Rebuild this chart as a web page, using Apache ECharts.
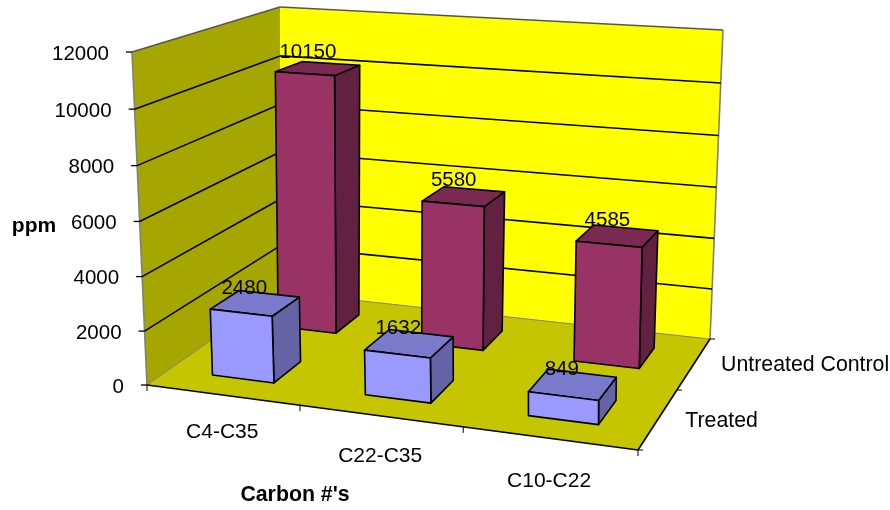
<!DOCTYPE html>
<html>
<head>
<meta charset="utf-8">
<script src="https://cdn.jsdelivr.net/npm/echarts@6/dist/echarts.min.js"></script>
<style>
html, body { margin: 0; padding: 0; background: #fff; }
#main { width: 890px; height: 510px; }
</style>
</head>
<body>
<div id="main"></div>
<script>
var categories = ['C4-C35', 'C22-C35', 'C10-C22'];
var depthNames = ['Treated', 'Untreated Control'];
var treated = [2480, 1632, 849];
var untreated = [10150, 5580, 4585];
var valueTicks = [0, 2000, 4000, 6000, 8000, 10000, 12000];
var depthTicks = [0, 0.5, 1];
var categoryTicks = [0, 1 / 3, 2 / 3, 1];

var FONT = '"Liberation Sans", Arial, sans-serif';
var BAR_SHARE = 0.41; // bar size as part of its band, both ways
var HEIGHT_LEAN = 1.036; // upper part of the box looks a little taller

// corners of the 3d box on screen: front-left, front-right, back-right, back-left
var floorQuad = [[147, 385], [638, 450], [710, 339], [280, 292]];
var topQuad = [[132, 52], [639, 84], [723, 30], [280, 7]];

function quadMap(q)
{
	var dx1 = q[1][0] - q[2][0], dx2 = q[3][0] - q[2][0], sx = q[0][0] - q[1][0] + q[2][0] - q[3][0];
	var dy1 = q[1][1] - q[2][1], dy2 = q[3][1] - q[2][1], sy = q[0][1] - q[1][1] + q[2][1] - q[3][1];
	var det = dx1 * dy2 - dx2 * dy1;
	var g = (sx * dy2 - dx2 * sy) / det;
	var h = (dx1 * sy - sx * dy1) / det;
	var a = q[1][0] - q[0][0] + g * q[1][0], b = q[3][0] - q[0][0] + h * q[3][0];
	var d = q[1][1] - q[0][1] + g * q[1][1], e = q[3][1] - q[0][1] + h * q[3][1];
	return function (u, v) {
		var w = g * u + h * v + 1;
		return [(a * u + b * v + q[0][0]) / w, (d * u + e * v + q[0][1]) / w];
	};
}
var floorMap = quadMap(floorQuad);
var topMap = quadMap(topQuad);

// u along the categories, v into the depth, t height share 0..1
function project(u, v, t)
{
	var p0 = floorMap(u, v), p1 = topMap(u, v);
	var s = t / (t + (1 - t) * HEIGHT_LEAN);
	return [p0[0] + (p1[0] - p0[0]) * s, p0[1] + (p1[1] - p0[1]) * s];
}

// height share
function heightShare(params, api, val)
{
	var sys = params.coordSys;
	return (sys.y + sys.height - api.coord([0, val])[1]) / sys.height;
}

function poly(points, fill, stroke, width)
{
	return {
		type: 'polygon',
		shape: { points: points },
		style: { fill: fill, stroke: stroke || 'none', lineWidth: width || 0, lineJoin: 'round' }
	};
}

function line(a, b, color, width)
{
	return {
		type: 'line',
		shape: { x1: a[0], y1: a[1], x2: b[0], y2: b[1] },
		style: { stroke: color, lineWidth: width, fill: 'none' }
	};
}

function label(text, x, y, align, size, bold)
{
	return {
		type: 'text',
		style: {
			text: text, x: x, y: y, align: align, verticalAlign: 'middle',
			fontFamily: FONT, fontSize: size, fontWeight: bold ? 'bold' : 'normal', fill: '#000'
		}
	};
}

function renderWalls(params, api)
{
	return {
		type: 'group',
		children: [
			poly([project(0, 0, 0), project(0, 1, 0), project(0, 1, 1), project(0, 0, 1)], '#A6A600'),
			poly([project(0, 1, 0), project(1, 1, 0), project(1, 1, 1), project(0, 1, 1)], '#FFFF00'),
			poly([project(0, 0, 0), project(1, 0, 0), project(1, 1, 0), project(0, 1, 0)], '#C6C600'),
			line(project(0, 0, 0), project(0, 0, 1), '#808080', 1.6),
			line(project(1, 1, 0), project(1, 1, 1), '#808080', 1.6),
			line(project(0, 0, 1), project(0, 1, 1), '#555', 1.4),
			line(project(0, 1, 1), project(1, 1, 1), '#555', 1.4),
			line(project(0, 0, 0), project(0, 1, 0), '#808080', 1),
			line(project(0, 1, 0), project(1, 1, 0), '#808080', 1)
		]
	};
}

function renderValueTick(params, api)
{
	var val = api.value(1);
	var t = heightShare(params, api, val);
	var a = project(0, 0, t), b = project(0, 1, t), c = project(1, 1, t);
	var children = [
		line([a[0] - 6, a[1]], a, '#000', 1.3),
		label(String(val), a[0] - 23, a[1] + 2, 'right', 20.5)
	];
	if (val > 0 && val < 12000) {
		children.push(line(a, b, '#000', 1.6), line(b, c, '#000', 1.6));
	}
	return { type: 'group', children: children };
}

function renderFrame(params, api)
{
	var children = [
		line(project(0, 0, 0), project(1, 0, 0), '#000', 1.6),
		line(project(1, 0, 0), project(1, 1, 0), '#000', 1.6)
	];
	categoryTicks.forEach(function (u) {
		var p = project(u, 0, 0);
		children.push(line(p, [p[0], p[1] + 6], '#000', 1));
	});
	depthTicks.forEach(function (v) {
		var p = project(1, v, 0);
		children.push(line(p, [p[0] + 5, p[1]], '#000', 1));
	});
	return { type: 'group', children: children };
}

function bandOf(params, api)
{
	var sys = params.coordSys;
	var center = (api.coord([api.value(0), 0])[0] - sys.x) / sys.width;
	var half = api.size([1, 0])[0] / sys.width / 2;
	return { u0: center - half * BAR_SHARE, u1: center + half * BAR_SHARE };
}

function makeBarRender(depthIndex, front, side, top)
{
	return function (params, api) {
		var band = bandOf(params, api);
		var t = heightShare(params, api, api.value(1));
		var half = 0.5 / 2;
		var mid = (depthIndex + 0.5) / depthNames.length;
		var v0 = mid - half * BAR_SHARE, v1 = mid + half * BAR_SHARE;
		var u0 = band.u0, u1 = band.u1;
		var edge = '#000', w = 1.6;
		return {
			type: 'group',
			children: [
				poly([project(u1, v0, 0), project(u1, v1, 0), project(u1, v1, t), project(u1, v0, t)], side, edge, w),
				poly([project(u0, v0, t), project(u1, v0, t), project(u1, v1, t), project(u0, v1, t)], top, edge, w),
				poly([project(u0, v0, 0), project(u1, v0, 0), project(u1, v0, t), project(u0, v0, t)], front, edge, w)
			]
		};
	};
}

function makeValueLabelRender(depthIndex, dx, dy)
{
	return function (params, api) {
		var band = bandOf(params, api);
		var t = heightShare(params, api, api.value(1));
		var mid = (depthIndex + 0.5) / depthNames.length;
		var p = project((band.u0 + band.u1) / 2, mid, t);
		return label(String(api.value(1)), p[0] + dx, p[1] + dy, 'center', 20.5);
	};
}

function renderTexts(params, api)
{
	var children = [];
	categories.forEach(function (name, i) {
		var p = project((i + 0.5) / categories.length, 0, 0);
		children.push(label(name, p[0], p[1] + 37 + 3 * i, 'center', 21));
	});
	depthNames.forEach(function (name, i) {
		var p = project(1, (i + 0.5) / depthNames.length, 0);
		children.push(label(name, p[0] + 27, p[1] + 2, 'left', 21.3));
	});
	children.push(label('ppm', 34, 226, 'center', 21, true));
	children.push(label("Carbon #'s", 295, 495, 'center', 21.3, true));
	return { type: 'group', children: children };
}

function toPairs(values)
{
	return values.map(function (v, i) { return [i, v]; });
}

function customSeries(render, data, z)
{
	return { type: 'custom', renderItem: render, data: data, z: z, silent: true, clip: false };
}

var chart = echarts.init(document.getElementById('main'));
chart.setOption({
	animation: false,
	backgroundColor: '#fff',
	grid: { left: 0, right: 0, top: 0, bottom: 0 },
	xAxis: { type: 'category', data: categories, show: false },
	yAxis: { type: 'value', min: 0, max: 12000, interval: 2000, show: false },
	series: [
		customSeries(renderWalls, [[0, 0]], 1),
		customSeries(renderValueTick, valueTicks.map(function (v) { return [0, v]; }), 2),
		customSeries(renderFrame, [[0, 0]], 3),
		customSeries(makeBarRender(1, '#993366', '#632142', '#7A2952'), toPairs(untreated), 4),
		customSeries(makeBarRender(0, '#9999FF', '#6363A6', '#7A7ACC'), toPairs(treated), 5),
		customSeries(makeValueLabelRender(1, -10, -16), toPairs(untreated), 6),
		customSeries(makeValueLabelRender(0, -11, -15), toPairs(treated), 6),
		customSeries(renderTexts, [[0, 0]], 7)
	]
});
</script>
</body>
</html>
